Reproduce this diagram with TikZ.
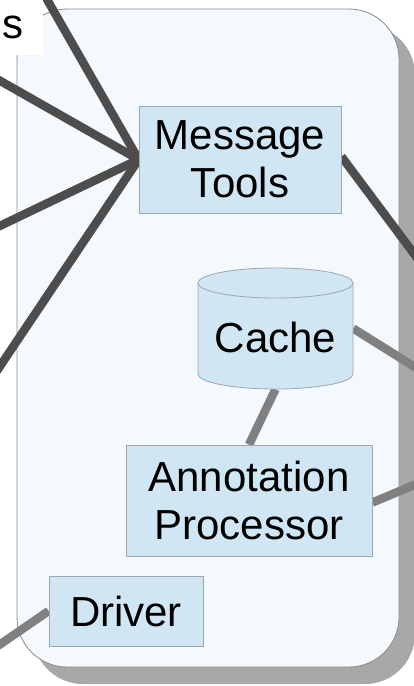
\documentclass[tikz,border=0pt]{standalone}
\usepackage{fontspec}
\setmainfont{Liberation Sans}
\definecolor{shadowc}{HTML}{A8A8A8}
\definecolor{contfill}{HTML}{F4F9FD}
\definecolor{contdraw}{HTML}{8A8A8A}
\definecolor{boxfill}{HTML}{D0E6F4}
\definecolor{boxdraw}{HTML}{9EA6AE}
\definecolor{darkline}{HTML}{4D4D4D}
\definecolor{lightline}{HTML}{808080}
\pgfdeclarelayer{bg}
\pgfdeclarelayer{mid}
\pgfsetlayers{bg,mid,main}
\tikzset{
  compbox/.style={draw=boxdraw, fill=boxfill, line width=0.8pt, inner sep=0pt, align=center,
    font=\fontsize{42}{48}\selectfont},
  txt/.style={inner sep=0pt, align=center, font=\fontsize{42}{48}\selectfont},
  darkconn/.style={draw=darkline, line width=8.5pt},
  lightconn/.style={draw=lightline, line width=8.5pt},
  cylfill/.style={fill=boxfill},
  cyldraw/.style={draw=boxdraw, line width=0.8pt},
}
\begin{document}
\begin{tikzpicture}[x=1pt, y=-1pt]
\useasboundingbox (0,0) rectangle (414,686);
\clip (0,0) rectangle (414,686);
% container with shadow
\begin{pgfonlayer}{bg}
\fill[shadowc, rounded corners=50pt] (33,25) rectangle (415,684);
\draw[contdraw, fill=contfill, line width=0.8pt, rounded corners=50pt] (17,9) rectangle (399,667);
\end{pgfonlayer}
% nodes
\node[compbox, minimum width=202pt, minimum height=107pt] (mt) at (240,159.5) {Message\\Tools};
\node[inner sep=0pt, minimum width=155pt, minimum height=121pt] (cache) at (275.5,328.5) {};
\node[compbox, minimum width=246pt, minimum height=111pt] (ap) at (249,500.5) {Annotation\\Processor};
\node[compbox, minimum width=154pt, minimum height=70pt] (drv) at (126,611) {Driver};
% cylinder
\path[cylfill] (198,283) -- (198,374)
  arc[start angle=180, end angle=360, x radius=77.5pt, y radius=15pt]
  -- (353,283)
  arc[start angle=0, end angle=180, x radius=77.5pt, y radius=15pt] -- cycle;
\draw[cyldraw] (198,283) -- (198,374)
  arc[start angle=180, end angle=360, x radius=77.5pt, y radius=15pt]
  -- (353,283)
  arc[start angle=0, end angle=180, x radius=77.5pt, y radius=15pt];
\draw[cyldraw] (198,283)
  arc[start angle=180, end angle=360, x radius=77.5pt, y radius=15pt];
\node[txt] (cachetxt) at (275.5,337) {Cache};
% cropped label
\node[fill=white, inner sep=0pt, minimum width=60pt, minimum height=55pt,
  font=\fontsize{42}{48}\selectfont] (lbl) at (13,27.5) {s};
% free ends
\coordinate (e1) at (13,-60);
\coordinate (e2) at (-40,58);
\coordinate (e3) at (-40,245);
\coordinate (e4) at (-30,411);
\coordinate (e5) at (450,302);
\coordinate (e6) at (450,389);
\coordinate (e7) at (450,470);
\coordinate (e8) at (-30,665);
% connectors
\begin{pgfonlayer}{mid}
\draw[darkconn] (mt.west) -- (e1);
\draw[darkconn] (mt.west) -- (e2);
\draw[darkconn] (mt.west) -- (e3);
\draw[darkconn] (mt.west) -- (e4);
\draw[darkconn] ([yshift=3pt]mt.east) -- (e5);
\draw[lightconn] (cache.east) -- (e6);
\draw[lightconn] (cache.south) -- (ap.north);
\draw[lightconn] ([yshift=-2pt]ap.east) -- (e7);
\draw[lightconn] (drv.west) -- (e8);
\end{pgfonlayer}
\end{tikzpicture}
\end{document}
